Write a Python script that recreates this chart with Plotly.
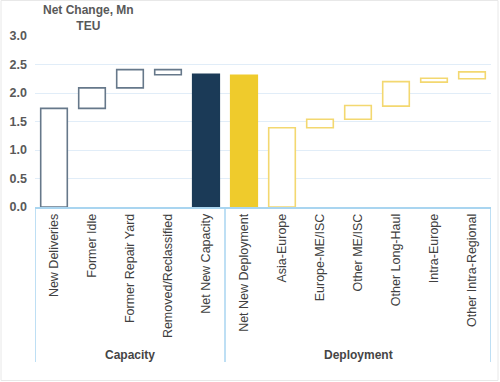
import plotly.graph_objects as go

categories = ["New Deliveries", "Former Idle", "Former Repair Yard", "Removed/Reclassified",
              "Net New Capacity", "Net New Deployment", "Asia-Europe", "Europe-ME/ISC",
              "Other ME/ISC", "Other Long-Haul", "Intra-Europe", "Other Intra-Regional"]
bar_bottoms = [0.0, 1.73, 2.09, 2.32, 0.0, 0.0, 0.0, 1.39, 1.54, 1.77, 2.19, 2.25]
bar_tops    = [1.73, 2.09, 2.41, 2.41, 2.33, 2.31, 1.39, 1.54, 1.78, 2.20, 2.26, 2.37]
group_names = ["Capacity", "Deployment"]
group_sizes = [5, 7]

fills = ["white"] * 4 + ["#1b3a57", "#efcb2c"] + ["white"] * 6
lines = ["#66788a"] * 4 + ["#1b3a57", "#efcb2c"] + ["#f3d870"] * 6

fig = go.Figure()
fig.add_trace(go.Bar(
    x=categories,
    y=[t - b for t, b in zip(bar_tops, bar_bottoms)],
    base=bar_bottoms,
    width=0.7,
    marker=dict(color=fills, line=dict(color=lines, width=1.6)),
    hoverinfo="skip",
))

font_fam = "Liberation Sans, Arial, sans-serif"
L, T, PW, PH = 35, 36, 456, 171   # plot area in pixels
fig.update_layout(
    width=500, height=382,
    margin=dict(l=L, r=500 - L - PW, t=T, b=382 - T - PH),
    paper_bgcolor="white", plot_bgcolor="white",
    showlegend=False,
    font=dict(family=font_fam, color="#595959"),
    xaxis=dict(tickangle=-90, tickfont=dict(size=12.5, color="#404040"),
               showline=True, linecolor="#a9d5f0", linewidth=1.5,
               showgrid=False, ticks="", automargin=False,
               range=[-0.5, len(categories) - 0.5]),
    yaxis=dict(range=[0, 3], dtick=0.5, tickformat=".1f",
               tickfont=dict(size=12.5, color="#595959", weight="bold"),
               gridcolor="#e1edf8", gridwidth=1, zeroline=False, ticks="",
               automargin=False, ticklabelstandoff=7),
)

def px_x(p):
    return (p - L) / PW

def px_y(p):
    return (T + PH - p) / PH

# group box lines below the axis
edges = [-0.5]
for s in group_sizes:
    edges.append(edges[-1] + s)
for xv in edges:
    fig.add_shape(type="line", xref="x", yref="paper", x0=xv, x1=xv, y0=0, y1=px_y(362),
                  line=dict(color="#a9d5f0", width=1.5))
for g, a, b in zip(group_names, edges[:-1], edges[1:]):
    fig.add_annotation(x=(a + b) / 2, y=px_y(355), xref="x", yref="paper", text=g,
                       showarrow=False, xanchor="center", yanchor="middle",
                       font=dict(size=12, color="#454545", weight="bold"))

fig.add_annotation(x=px_x(88), y=px_y(18), xref="paper", yref="paper",
                   text="Net Change, Mn<br>TEU", showarrow=False,
                   xanchor="center", yanchor="middle",
                   font=dict(size=12, color="#595959", weight="bold"))

# faint outer frame
fig.add_shape(type="rect", xref="paper", yref="paper",
              x0=px_x(1), x1=px_x(498), y0=px_y(380.5), y1=px_y(0.5),
              line=dict(color="#e8e8e8", width=1), layer="below")

fig.write_html("out.html", config={"displayModeBar": False},
               post_script="document.body.style.margin='0';")
